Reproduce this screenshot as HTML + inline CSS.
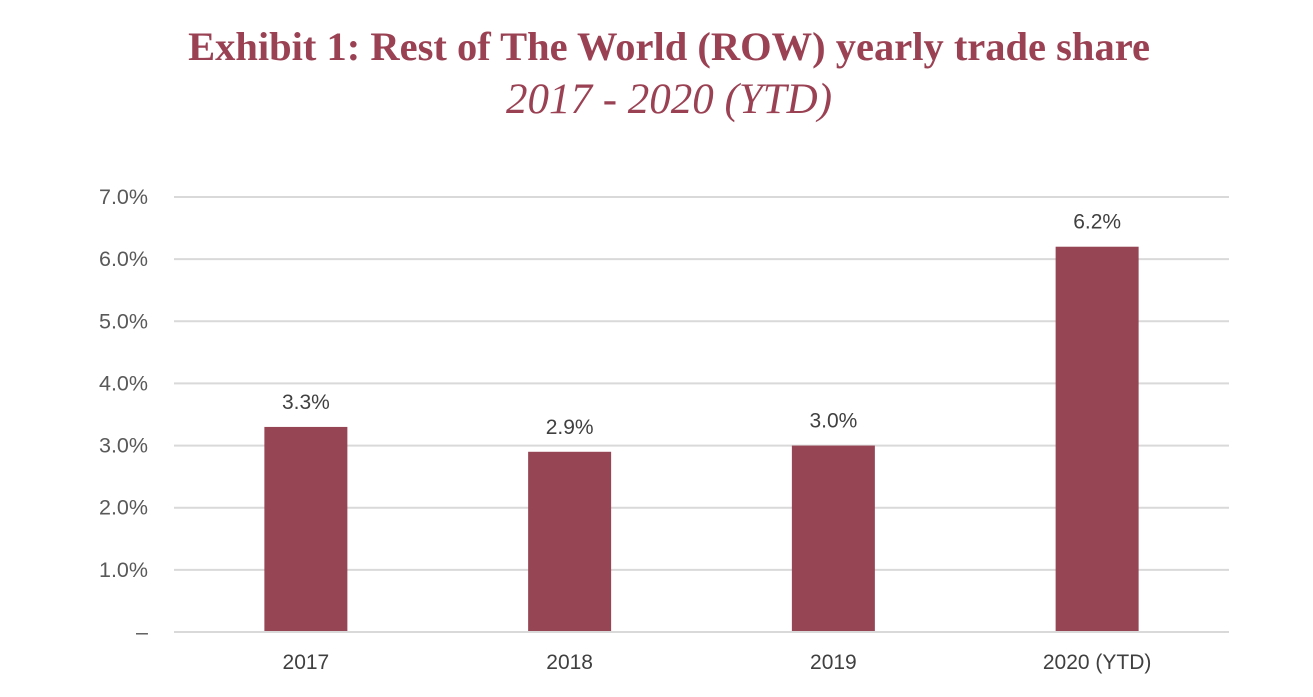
<!DOCTYPE html>
<html><head><meta charset="utf-8"><style>
body{margin:0;background:#fff;width:1313px;height:692px;overflow:hidden}
svg text{font-family:"Liberation Sans",sans-serif}
</style></head><body>
<svg width="1313" height="692">
<text x="669" y="60" text-anchor="middle" style="font-family:'Liberation Serif',serif" font-size="40.5" font-weight="bold" fill="#9a4254">Exhibit 1: Rest of The World (ROW) yearly trade share</text>
<text x="669" y="113" text-anchor="middle" style="font-family:'Liberation Serif',serif" font-size="43" font-style="italic" fill="#9a4254">2017 - 2020 (YTD)</text>
<g id="grid"></g><g id="bars"></g>
</svg>
<script>
const categories=["2017","2018","2019","2020 (YTD)"];
const values=[3.3,2.9,3.0,6.2];
const valueLabels=["3.3%","2.9%","3.0%","6.2%"];
const ticks=[0,1,2,3,4,5,6,7];
const tickLabels=["–","1.0%","2.0%","3.0%","4.0%","5.0%","6.0%","7.0%"];
const NS="http://www.w3.org/2000/svg";
const x0=174,x1=1229,y0=632,y7=197;
const y=v=>y0-(v/7)*(y0-y7);
const bw=(x1-x0)/categories.length;
const xc=i=>x0+bw*(i+0.5);
function mk(t,a,p,txt){const e=document.createElementNS(NS,t);for(const k in a)e.setAttribute(k,a[k]);if(txt!=null)e.textContent=txt;p.appendChild(e);return e;}
const g=document.getElementById('grid'),b=document.getElementById('bars');
ticks.forEach((t,i)=>{
 const l=mk('line',{x1:x0,x2:x1,y1:y(t),y2:y(t),stroke:'#d9d9d9','stroke-width':2},g);
 
 
 const tx=mk('text',{x:148,y:y(t)+7,'text-anchor':'end','font-size':21.5,fill:'#595959'},g,tickLabels[i]);
 
 
});
values.forEach((v,i)=>{
 const r=mk('rect',{x:xc(i)-41.5,y:y(v),width:83,height:y0-y(v)-1,fill:'#964554'},b);
 
 
 const lt=mk('text',{x:xc(i),y:y(v)-18,'text-anchor':'middle','font-size':21,fill:'#404040'},b,valueLabels[i]);
 
 
 const ct=mk('text',{x:xc(i),y:669,'text-anchor':'middle','font-size':21,fill:'#404040'},b,categories[i]);
 
 
});
</script>
</body></html>
